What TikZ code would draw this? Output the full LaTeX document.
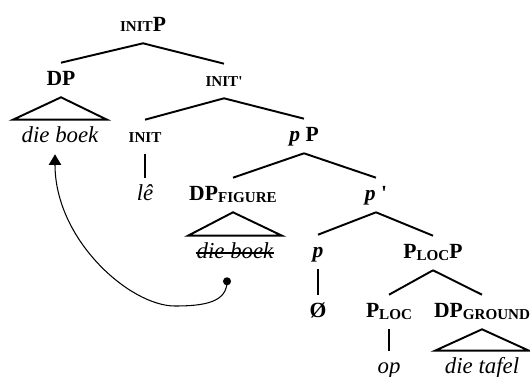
\documentclass[tikz,border=0pt]{standalone}
\usepackage{fontspec}
\setmainfont{Liberation Serif}
\usepackage{tikz}
\usetikzlibrary{arrows.meta}

\newcommand{\smcap}[1]{{\fontsize{8.6pt}{10pt}\selectfont #1}}
\newcommand{\lsub}[1]{\raisebox{-0.3ex}{\smcap{#1}}}

\begin{document}
\begin{tikzpicture}[x=0.02cm,y=-0.02cm,
    lab/.style={anchor=base,font=\fontsize{12.3pt}{14pt}\selectfont\bfseries,
      text height=5.7pt,text depth=0pt,inner ysep=6.8pt,inner xsep=0pt},
    leaf/.style={lab,font=\fontsize{13pt}{15pt}\selectfont\itshape},
    branch/.style={line width=1.1pt},
    movement/.style={line width=0.6pt,-{Triangle[length=6pt,width=7pt]}}]
  \useasboundingbox (0,0) rectangle (530,376);
  \node[lab] (initP) at (143,31) {\smcap{INIT}P};
  \node[lab] (dp) at (61,85) {DP};
  \node[lab] (initbar) at (224,86) {\smcap{INIT\textquotesingle}};
  \node[leaf] (book) at (60,142) {die boek};
  \node[lab] (init) at (145,142) {\smcap{INIT}};
  \node[leaf] (le) at (145,200) {lê};
  \node[lab] (pP) at (304,141) {\textit{p} P};
  \node[lab] (dpfig) at (233,200) {DP\lsub{FIGURE}};
  \node[leaf] (book2) at (235,258) {die boek};
  \node[lab] (pbar) at (376,200) {\textit{p} \textquotesingle};
  \node[lab] (p) at (318,257) {\textit{p}};
  \node[lab] (plocP) at (433,258) {P\lsub{LOC}P};
  \node[lab] (zero) at (318,317) {Ø};
  \node[lab] (ploc) at (389,317) {P\lsub{LOC}};
  \node[lab] (dpgr) at (482,317) {DP\lsub{GROUND}};
  \node[leaf] (op) at (389,373) {op};
  \node[leaf] (tafel) at (482,373) {die tafel};
  % branches
  \draw[branch] (initP.south) -- (dp.north);
  \draw[branch] (initP.south) -- (initbar.north);
  \draw[branch] (initbar.south) -- (init.north);
  \draw[branch] (initbar.south) -- (pP.north);
  \draw[branch] (init.south) -- (le.north);
  \draw[branch] (pP.south) -- (dpfig.north);
  \draw[branch] (pP.south) -- (pbar.north);
  \draw[branch] (pbar.south) -- (p.north);
  \draw[branch] (pbar.south) -- (plocP.north);
  \draw[branch] (p.south) -- (zero.north);
  \draw[branch] (plocP.south) -- (ploc.north);
  \draw[branch] (plocP.south) -- (dpgr.north);
  \draw[branch] (ploc.south) -- (op.north);
  % roofs
  \draw[branch] (dp.south) -- ([xshift=-0.94cm]book.north) -- ([xshift=0.94cm]book.north) -- cycle;
  \draw[branch] (dpfig.south) -- ([xshift=-0.94cm]book2.north) -- ([xshift=0.94cm]book2.north) -- cycle;
  \draw[branch] (dpgr.south) -- ([xshift=-0.94cm]tafel.north) -- ([xshift=0.94cm]tafel.north) -- cycle;
  % struck copy
  \draw[line width=0.6pt] ([yshift=0.1cm]book2.base west) -- ([yshift=0.1cm]book2.base east);
  % movement
  \coordinate (src) at ([shift={(-8,11)}]book2.south);
  \fill (src) circle (2.3pt);
  \draw[movement] (src) .. controls (227,302) and (205,306) .. (175,306)
    .. controls (130,306) and (55,240) .. ([xshift=-0.1cm]book.south);
\end{tikzpicture}
\end{document}
